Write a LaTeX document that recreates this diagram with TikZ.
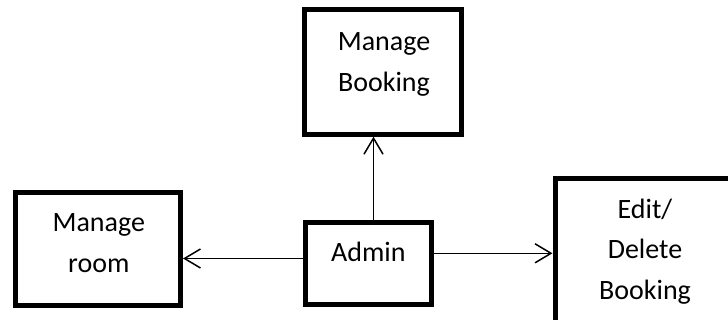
\documentclass[tikz,border=0pt]{standalone}
\usepackage{fontspec}
\setmainfont{Carlito}
\usetikzlibrary{arrows.meta}

\tikzset{
  box/.style={draw=black, line width=5pt, rectangle, inner sep=0pt, fill=white},
  lbl/.style={anchor=base, inner sep=0pt,
    font=\fontsize{28}{40.5}\selectfont},
  link/.style={draw=black, line width=1.5pt,
    -{Straight Barb[length=16pt, width=19pt]}}
}
\newcommand{\lines}[1]{\setlength{\tabcolsep}{0pt}\begin{tabular}[t]{c}#1\end{tabular}}

\begin{document}
\begin{tikzpicture}[x=1pt, y=-1pt]
  \useasboundingbox (0,0) rectangle (728,320);
  \clip (0,0) rectangle (728,320);

  % boxes
  \node[box, minimum width=157.5pt, minimum height=124.4pt] (mb) at (383.05,72) {};
  \node[box, minimum width=165pt, minimum height=112.8pt] (mr) at (98,249.4) {};
  \node[box, minimum width=126.3pt, minimum height=81.4pt] (ad) at (368.35,263.5) {};
  \node[box, minimum width=185pt, minimum height=161.5pt] (ed) at (647.5,259.25) {};

  % captions
  \node[lbl] (mbt) at (384,50.7) {\lines{Manage\\Booking}};
  \node[lbl] (mrt) at (98.8,231.7) {\lines{Manage\\room}};
  \node[lbl] (adt) at (368.3,261.7) {Admin};
  \node[lbl] (edt) at (645,218.3) {\lines{Edit/\\Delete\\Booking}};

  % connector lanes
  \coordinate (upx) at (373.5,0);
  \coordinate (lefty) at (0,258.5);
  \coordinate (righty) at (0,253.3);

  % connectors
  \draw[link] (ad.north -| upx) -- (mb.south -| upx);
  \draw[link] (ad.west |- lefty) -- (mr.east |- lefty);
  \draw[link] (ad.east |- righty) -- (ed.west |- righty);
\end{tikzpicture}
\end{document}
